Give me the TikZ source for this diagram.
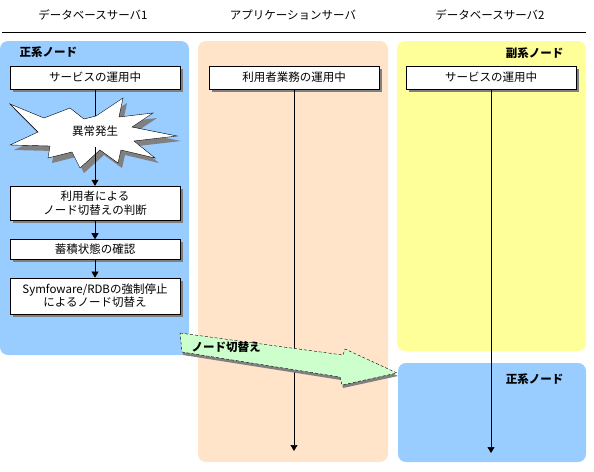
\documentclass[tikz,border=0pt]{standalone}
\usepackage{fontspec}
\setmainfont{Noto Sans CJK JP}
\usepackage{xcolor}
\usetikzlibrary{arrows.meta, positioning, shadows}

\definecolor{mainblue}{HTML}{99CCFF}
\definecolor{apppeach}{HTML}{FFE4C9}
\definecolor{subyellow}{HTML}{FFFF99}
\definecolor{switchgreen}{HTML}{CCFFCC}
\definecolor{shadowgray}{HTML}{808080}

\begin{document}
\begin{tikzpicture}[x=1pt, y=-1pt,
    panel/.style={rounded corners=8pt},
    box/.style={rectangle, draw, fill=white, minimum width=170pt, align=center, inner sep=1pt,
        font=\fontsize{11.5}{13.5}\selectfont,
        drop shadow={shadow xshift=3pt, shadow yshift=-3pt, fill=shadowgray, opacity=1}},
    title/.style={font=\fontsize{11.5}{13}\selectfont},
    tag/.style={font=\fontsize{11.5}{13}\selectfont\bfseries},
    line/.style={draw, line width=0.7pt, -{Triangle[length=6pt, width=7pt]}}
]
\useasboundingbox (0,0) rectangle (594,471);

% Columns
\node [title] (db1) at (93,15) {データベースサーバ1};
\node [title] (ap) at (293,15) {アプリケーションサーバ};
\node [title] (db2) at (490,15) {データベースサーバ2};
\draw [line width=0.8pt] (2,32) -- (586,32);

% Panels
\fill [panel, mainblue] (0,41) rectangle (189,355);
\fill [panel, apppeach] (198,41) rectangle (388,462);
\fill [panel, subyellow] (397,41) rectangle (586,351);
\fill [panel, mainblue] (398,363) rectangle (586,462);

\node [tag, anchor=west] (main1) at (16,52) {正系ノード};
\node [tag, anchor=east] (sub2) at (567,53) {副系ノード};
\node [tag, anchor=east] (main2) at (567,379) {正系ノード};

% Server 1
\node [box, minimum height=23pt] (run1) at (95,77.5) {サービスの運用中};

\def\burst{(10,104) -- (44,118) -- (70,108) -- (84,119) -- (96,116) -- (123,98) -- (119,117)
  -- (153,113) -- (132,127) -- (177,136) -- (134,141) -- (155,158) -- (121,150) -- (118,163)
  -- (100,150) -- (80,168) -- (72,152) -- (48,158) -- (50,146) -- (10,145) -- (38,132)
  -- (26,120) -- cycle}
\fill [shadowgray, shift={(4,5)}] \burst;
\filldraw [fill=white] \burst;
\node [minimum height=31pt, inner sep=0pt, font=\fontsize{11.5}{13}\selectfont] (fail) at (95,131.5) {異常発生};

\node [box, minimum height=34pt] (judge) at (95,203) {利用者による\\ノード切替えの判断};
\node [box, minimum height=20pt, below=19pt of judge] (check) {蓄積状態の確認};
\node [box, minimum height=36pt, below=18pt of check] (stop) {Symfoware/RDBの強制停止\\によるノード切替え};

\draw [line width=0.7pt] (run1) -- (fail);
\draw [line] (fail) -- (judge);
\draw [line] (judge) -- (check);
\draw [line] (check) -- (stop);

% Application server
\node [box, minimum height=23pt] (work) at (294,77.5) {利用者業務の運用中};
\coordinate (workend) at (294,451);
\draw [line] (work) -- (workend);

% Server 2
\node [box, minimum height=23pt] (run2) at (491,77.5) {サービスの運用中};
\coordinate (run2end) at (491,453);
\draw [line] (run2) -- (run2end);

% Switch arrow
\def\switch{(180,333) -- (343,355) -- (345,349) -- (397,373) -- (342,385) -- (340,377) -- (182,352) -- cycle}
\fill [shadowgray, shift={(1,3)}] \switch;
\filldraw [fill=switchgreen, dashed, dash pattern=on 3pt off 2pt] \switch;
\node [tag] (swlabel) at (226,347) {ノード切替え};

\end{tikzpicture}
\end{document}
